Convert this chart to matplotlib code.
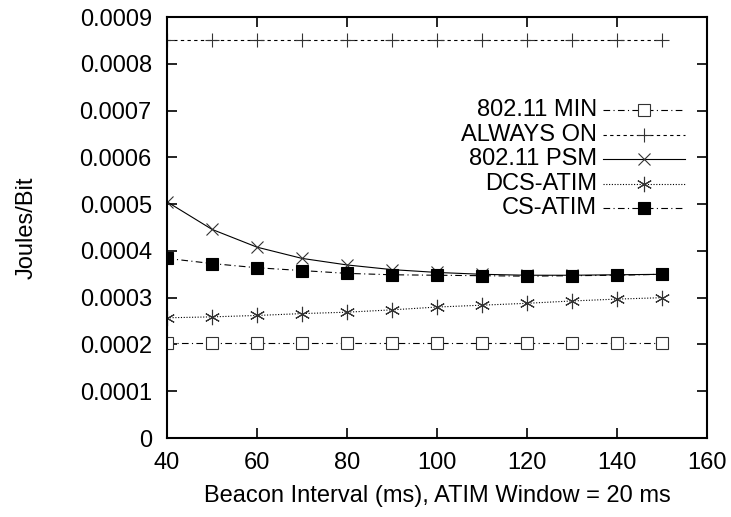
import matplotlib.pyplot as plt
from matplotlib.lines import Line2D

plt.rcParams['font.family'] = ['Liberation Sans', 'DejaVu Sans']

# beacon interval (ms)
beacon = [40, 50, 60, 70, 80, 90, 100, 110, 120, 130, 140, 150]

# energy per bit (J/bit)
min_80211 = [0.000203] * 12
always_on = [0.00085] * 12
psm_80211 = [0.000505, 0.000446, 0.000408, 0.000384, 0.000370, 0.000360,
             0.000354, 0.000350, 0.000348, 0.000348, 0.000349, 0.000350]
dcs_atim = [0.000257, 0.000259, 0.000262, 0.000266, 0.000269, 0.000274,
            0.000280, 0.000284, 0.000288, 0.000293, 0.000297, 0.000300]
cs_atim = [0.000384, 0.000373, 0.000364, 0.000358, 0.000352, 0.000349,
           0.000348, 0.000347, 0.000346, 0.000347, 0.000348, 0.000350]

labels = ["802.11 MIN", "ALWAYS ON", "802.11 PSM", "DCS-ATIM", "CS-ATIM"]

fs = 17

fig = plt.figure(figsize=(7.31, 5.17), dpi=100)
ax = fig.add_axes([0.2285, 0.1528, 0.9672 - 0.2285, 0.967 - 0.1528])

asterisk = (6, 2, 0)
styles = [
    dict(ls=(0, (6, 3, 1, 3)), marker='s', mfc='white', mec='#333333', ms=8),
    dict(ls=(0, (3, 3)), marker='+', mec='#333333', ms=10),
    dict(ls='-', marker='x', mec='#333333', ms=9),
    dict(ls=(0, (1, 1.5)), marker=asterisk, mec='#333333', ms=11),
    dict(ls=(0, (6, 3, 1, 3)), marker='s', mfc='black', mec='black', ms=9),
]
series = [min_80211, always_on, psm_80211, dcs_atim, cs_atim]

for ys, st in zip(series, styles):
    ax.plot(beacon, ys, color='black', lw=0.8, mew=0.8, **st)

ax.set_xlim(40, 160)
ax.set_ylim(0, 0.0009)
ax.set_xticks(range(40, 161, 20))
ax.set_yticks([i * 0.0001 for i in range(10)])
ax.set_yticklabels(['0'] + ['%.4f' % (i * 0.0001) for i in range(1, 10)])
ax.tick_params(direction='in', length=7, width=1.2, top=True, right=True,
               labelsize=fs)
ax.tick_params(axis='y', pad=11)
ax.tick_params(axis='x', pad=10)
for s in ax.spines.values():
    s.set_linewidth(1.5)

ax.set_xlabel("Beacon Interval (ms), ATIM Window = 20 ms", fontsize=fs, labelpad=8)
ax.set_ylabel("Joules/Bit", fontsize=fs, labelpad=30)

# gnuplot-style key: labels right-aligned, samples on the right
x_text = (597 - 167) / 540
x0, x1 = (603 - 167) / 540, (685 - 167) / 540
xm = (x0 + x1) / 2
for i, (lab, st) in enumerate(zip(labels, styles)):
    y = (438 - (110 + 24.5 * i)) / 421
    ax.text(x_text, y, lab, transform=ax.transAxes, ha='right', va='center', fontsize=fs)
    ax.add_line(Line2D([x0, x1], [y, y], transform=ax.transAxes, color='black',
                       lw=0.8, ls=st['ls']))
    mst = {k: v for k, v in st.items() if k != 'ls'}
    ax.add_line(Line2D([xm], [y], transform=ax.transAxes, color='black', ls='none',
                       mew=0.8, **mst))

fig.savefig("out.png", dpi=100)
